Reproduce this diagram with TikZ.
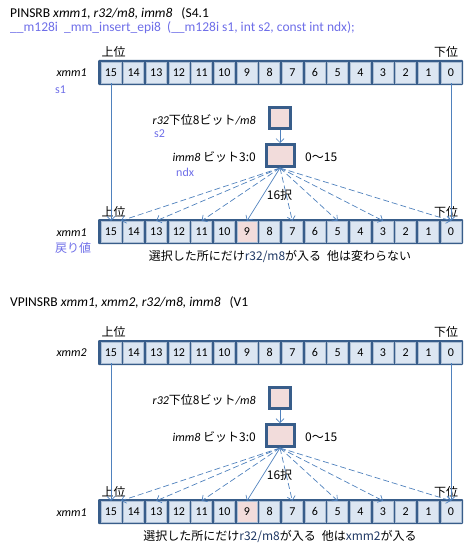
\documentclass[tikz,border=0pt]{standalone}
\usepackage{fontspec}
\setmainfont{Carlito}
\newfontfamily\jp{Noto Sans CJK JP}
\usetikzlibrary{arrows.meta}
\definecolor{regframe}{RGB}{56,93,138}
\definecolor{cellfill}{RGB}{220,230,242}
\definecolor{pickfill}{RGB}{242,220,219}
\definecolor{arrowblue}{RGB}{79,129,189}
\definecolor{argblue}{RGB}{110,110,232}
\definecolor{navy}{RGB}{31,56,100}
\begin{document}
\begin{tikzpicture}[x=1pt,y=-1pt,>={Straight Barb[length=4pt,width=8pt]},font=\fontsize{12}{14}\selectfont,
	frame/.style={fill=regframe,rounded corners=1pt,minimum width=365pt,minimum height=25pt,inner sep=0pt},
	cell/.style={draw=cellfill!70!regframe,line width=0.4pt,minimum width=20pt,minimum height=21pt,inner sep=0pt},
	selbox/.style={draw=regframe,line width=3pt,fill=pickfill,inner sep=0pt},
	link/.style={->,draw=arrowblue,line width=0.7pt},
	fan/.style={link,dash pattern=on 6pt off 3pt},
	lbl/.style={inner sep=0pt},
	head/.style={lbl,anchor=west,font=\fontsize{13.5}{15}\selectfont},
	arg/.style={lbl,anchor=west,text=argblue}]
	\useasboundingbox (0,0) rectangle (469,551);
	\foreach \r/\top/\hl in {inA/60/cellfill,outA/219/pickfill,inB/340/cellfill,outB/499/pickfill}{
		\node[frame] (\r) at (280.5,\top+12.5) {};
		\foreach \i in {0,...,15}{
			\ifnum\i=9 \def\cf{\hl}\else\def\cf{cellfill}\fi
			\node[cell,fill=\cf] (\r\i) at (451-22.67*\i,\top+12.5) {\i};
		}
	}
	\foreach \s/\dy/\reg in {A/0/xmm1,B/280/xmm2}{
		\node[selbox,minimum width=21pt,minimum height=21pt] (src\s) at (280,118+\dy) {};
		\node[selbox,minimum width=28pt,minimum height=22pt] (idx\s) at (280,155.5+\dy) {};
		\node[lbl] (hiIn\s) at (113.5,52+\dy) {\jp 上位};
		\node[lbl] (loIn\s) at (446,52+\dy) {\jp 下位};
		\node[lbl] (hiOut\s) at (113.5,212+\dy) {\jp 上位};
		\node[lbl] (loOut\s) at (446,212+\dy) {\jp 下位};
		\node[lbl,anchor=east] (inName\s) at (87,73+\dy) {\textit{\reg}};
		\node[lbl,anchor=east] (outName\s) at (87,233+\dy) {\textit{xmm1}};
		\node[lbl,anchor=east] (srcName\s) at (256,120+\dy) {\textit{r32}{\jp 下位8ビット}\textit{/m8}};
		\node[lbl,anchor=east] (idxName\s) at (256,157+\dy) {\textit{imm8} {\jp ビット3:0}};
		\node[lbl,anchor=west] (range\s) at (305,157+\dy) {\jp 0〜15};
		\node[lbl] (pick\s) at (279.5,195+\dy) {\jp 16択};
		\draw[link] (src\s) -- (idx\s);
		\draw[link] (in\s15.south) -- (out\s15.north);
		\draw[link] (in\s0.south) -- (out\s0.north);
		\draw[fan] (idx\s.south) -- (out\s15.north east);
		\foreach \j in {13,11,7,5,3,0}
			\draw[fan] (idx\s.south) -- (out\s\j.north);
		\draw[link] (idx\s.south) -- (out\s9.north);
	}
	\node[head] (titleA) at (10,14) {PINSRB \textit{xmm1, r32/m8, imm8}\hspace{9pt}(S4.1};
	\node[head,text=argblue] (apiA) at (10,28) {\_\_m128i\ \ \_mm\_insert\_epi8\ \ (\_\_m128i s1, int s2, const int ndx);};
	\node[arg] (argS1) at (55,90) {s1};
	\node[arg] (argS2) at (154,134) {s2};
	\node[arg] (argNdx) at (176,172) {ndx};
	\node[arg] (retA) at (55,248) {\jp 戻り値};
	\node[lbl] (noteA) at (280,256) {\jp 選択した所にだけ{\color{navy}r32/m8}が入る\hspace{6pt}他は変わらない};
	\node[head] (titleB) at (10,302) {VPINSRB \textit{xmm1, xmm2, r32/m8, imm8}\hspace{9pt}(V1};
	\node[lbl] (noteB) at (280,536) {\jp 選択した所にだけ{\color{navy}r32/m8}が入る\hspace{6pt}他は{\color{navy}xmm2}が入る};
\end{tikzpicture}
\end{document}
